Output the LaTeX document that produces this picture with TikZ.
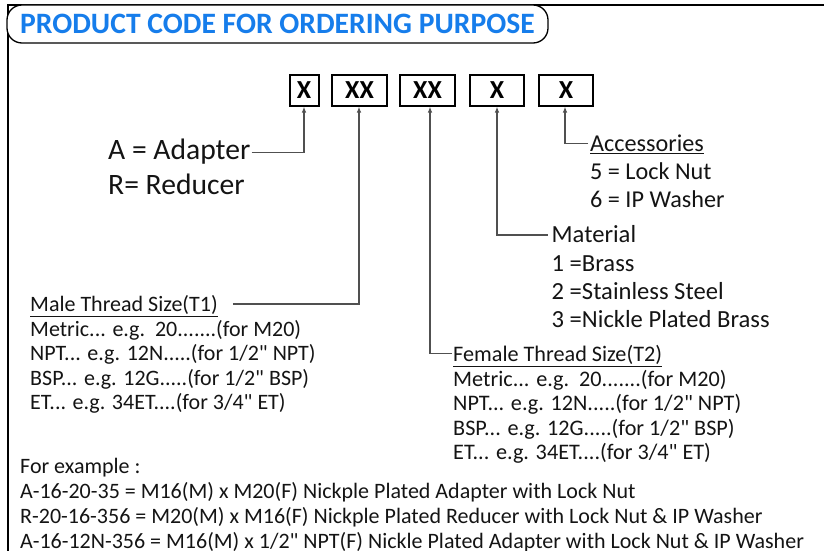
\documentclass[tikz,border=0pt]{standalone}
\usepackage{fontspec}
\setmainfont{Carlito}[Ligatures=TeXOff]
\usetikzlibrary{arrows.meta}
\definecolor{titleblue}{RGB}{22,125,235}
\definecolor{conngray}{RGB}{80,80,80}
\definecolor{inkblack}{RGB}{20,20,20}
\begin{document}
\begin{tikzpicture}[x=1pt,y=-1pt,
  txt/.style={anchor=base west, inner sep=0pt, text=inkblack, font=\fontsize{#1}{#1}\selectfont},
  codebox/.style={draw, line width=2pt, minimum height=31pt, inner sep=0pt, font=\bfseries\fontsize{26}{26}\selectfont},
  conn/.style={draw=conngray, line width=1.1pt, -{Latex[length=6pt,width=4.5pt]}},
  frame/.style={draw=black, line width=1.5pt}]
\useasboundingbox (0,0) rectangle (824,551);
% frame
\draw[frame] (8,551) -- (8,5) -- (824,5);
% title
\node[draw, line width=1.3pt, rounded corners=15pt, fill=white, minimum width=541pt, minimum height=38pt, inner sep=0pt,
      text=titleblue, font=\bfseries\fontsize{29.6}{29.6}\selectfont] (title) at (277.5,24) {PRODUCT CODE FOR ORDERING PURPOSE};
% code boxes
\node[codebox, minimum width=29pt] (b1) at (304,90) {X};
\node[codebox, minimum width=55pt] (b2) at (359.5,90) {XX};
\node[codebox, minimum width=55pt] (b3) at (427.5,90) {XX};
\node[codebox, minimum width=54pt] (b4) at (497,90) {X};
\node[codebox, minimum width=54pt] (b5) at (566,90) {X};
% type
\node[txt=29.6] (adap) at (108,159.3) {A = Adapter};
\node[txt=29.6] (red) at (108,194) {R= Reducer};
% accessories
\node[txt=24.2] (acc) at (590,151.7) {\underline{Accessories}};
\node[txt=24.2] (acc1) at (590,179.7) {5 = Lock Nut};
\node[txt=24.2] (acc2) at (590,207.5) {6 = IP Washer};
% material
\node[txt=24.6] (mat) at (551.5,242.3) {Material};
\node[txt=24.6] (mat1) at (551.5,271) {1 =Brass};
\node[txt=24.6] (mat2) at (551.5,299) {2 =Stainless Steel};
\node[txt=24.6] (mat3) at (551.5,327) {3 =Nickle Plated Brass};
% male thread
\node[txt=22] (male) at (30,311.5) {\underline{Male Thread Size(T1)}};
\node[txt=22] (male1) at (30,336) {Metric... e.g.\ \ 20.......(for M20)};
\node[txt=22] (male2) at (30,360.5) {NPT... e.g. 12N.....(for 1/2" NPT)};
\node[txt=22] (male3) at (30,385) {BSP... e.g. 12G.....(for 1/2" BSP)};
\node[txt=22] (male4) at (30,409.5) {ET... e.g. 34ET....(for 3/4" ET)};
% female thread
\node[txt=22.2] (fem) at (453,361.5) {\underline{Female Thread Size(T2)}};
\node[txt=22.2] (fem1) at (453,386) {Metric... e.g.\ \ 20.......(for M20)};
\node[txt=22.2] (fem2) at (453,410.5) {NPT... e.g. 12N.....(for 1/2" NPT)};
\node[txt=22.2] (fem3) at (453,435) {BSP... e.g. 12G.....(for 1/2" BSP)};
\node[txt=22.2] (fem4) at (453,459.5) {ET... e.g. 34ET....(for 3/4" ET)};
% examples
\node[txt=22] (ex0) at (20,473.3) {For example :};
\node[txt=22] (ex1) at (20,498.3) {A-16-20-35 = M16(M) x M20(F) Nickple Plated Adapter with Lock Nut};
\node[txt=22] (ex2) at (20,523.3) {R-20-16-356 = M20(M) x M16(F) Nickple Plated Reducer with Lock Nut \& IP Washer};
\node[txt=22] (ex3) at (20,548.3) {A-16-12N-356 = M16(M) x 1/2" NPT(F) Nickle Plated Adapter with Lock Nut \& IP Washer};
% connectors
\draw[conn] ([xshift=1pt,yshift=7.2pt]adap.base east) -| (b1.south);
\draw[conn] ([xshift=15pt,yshift=7.5pt]male.base east) -| ([xshift=-0.5pt]b2.south);
\draw[conn] ([xshift=-1pt,yshift=8pt]fem.base west) -| ([xshift=2.5pt]b3.south);
\draw[conn] ([xshift=-4pt,yshift=7.3pt]mat.base west) -| (b4.south);
\draw[conn] ([xshift=-2pt,yshift=8.5pt]acc.base west) -| ([xshift=-1pt]b5.south);
\end{tikzpicture}
\end{document}
